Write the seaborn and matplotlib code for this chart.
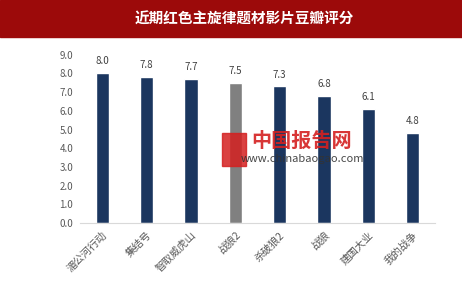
import matplotlib
matplotlib.use("Agg")
import matplotlib.pyplot as plt
import seaborn as sns
import pandas as pd

films = ["湄公河行动", "集结号", "智取威虎山", "战狼2", "杀破狼2", "战狼", "建国大业", "我的战争"]
scores = [8.0, 7.8, 7.7, 7.5, 7.3, 6.8, 6.1, 4.8]
highlight = "战狼2"
title = "近期红色主旋律题材影片豆瓣评分"
yticks = [0.0, 1.0, 2.0, 3.0, 4.0, 5.0, 6.0, 7.0, 8.0, 9.0]

sns.set_style("white")
plt.rcParams['font.family'] = ['Noto Sans CJK SC', 'DejaVu Sans']

df = pd.DataFrame({"film": films, "score": scores})
palette = {f: ("#808080" if f == highlight else "#1b365f") for f in films}

fig = plt.figure(figsize=(4.62, 2.82), dpi=100)
# title band
fig.patches.append(plt.Rectangle((0, 1 - 37 / 282), 1, 37 / 282, transform=fig.transFigure,
                                 color="#9c0a0a", zorder=0))
fig.text(0.53, 1 - 19 / 282, title, color="white", fontsize=10.5, fontweight="bold",
         ha="center", va="center")

ax = fig.add_axes([80 / 462, 1 - 223 / 282, 355 / 462, (223 - 54.7) / 282])
sns.barplot(data=df, x="film", y="score", hue="film", palette=palette, width=0.3,
            legend=False, ax=ax, saturation=1)
ax.set_ylim(0, 9)
ax.set_xlim(-0.5, len(films) - 0.5)
ax.set_yticks(yticks)
ax.set_yticklabels([f"{v:.1f}" for v in yticks], fontsize=7, color="#595959")
ax.set_xticks(range(len(films)))
ax.set_xticklabels(films, rotation=45, ha="right", rotation_mode="anchor",
                   fontsize=7.5, color="#595959")
ax.tick_params(axis="both", length=0, pad=5)
ax.set_xlabel("")
ax.set_ylabel("")
for s in ["top", "right", "left"]:
    ax.spines[s].set_visible(False)
ax.spines["bottom"].set_color("#d9d9d9")
for container in ax.containers:
    ax.bar_label(container, fmt="%.1f", fontsize=7, color="#404040", padding=5)

# watermark
fig.patches.append(plt.Rectangle((222 / 462, 1 - 166 / 282), 24 / 462, 33 / 282,
                                 transform=fig.transFigure, color="#d42020", alpha=0.85,
                                 zorder=5))
fig.text(302 / 462, 1 - 140 / 282, "中国报告网", color="#d42020", fontsize=14.5,
         fontweight="bold", ha="center", va="center", alpha=0.9, zorder=6)
fig.text(302 / 462, 1 - 159 / 282, "www.chinabaogao.com", color="#333333", fontsize=8,
         ha="center", va="center", alpha=0.9, zorder=6)

fig.savefig("out.png", dpi=100)
